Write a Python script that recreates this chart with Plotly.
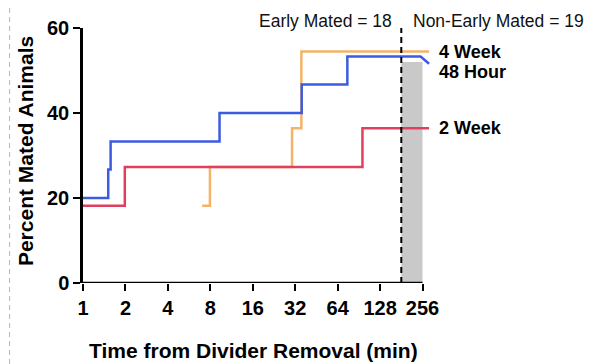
import plotly.graph_objects as go
import math

# ---- data ----
hour48_times = [1, 1.51, 1.57, 9.3, 35.6, 75, 248]
hour48_pct = [20.0, 26.7, 33.3, 40.0, 46.7, 53.3, 53.3]
hour48_tail_time = 285
hour48_tail_pct = 51.6

week2_times = [1, 1.98, 96]
week2_pct = [18.2, 27.3, 36.4]
week2_end = 285

week4_times = [7, 7.95, 30.4, 35.4]
week4_pct = [18.2, 27.3, 36.4, 54.5]
week4_end = 285

cutoff_time = 181
shade_end = 256
shade_top = 52
tick_vals = [1, 2, 4, 8, 16, 32, 64, 128, 256]
tick_text = [str(v) for v in tick_vals]
y_ticks = [0, 20, 40, 60]

BLUE = "#3d5be0"
RED = "#e0405e"
ORANGE = "#f4b36a"


def step_path(times, vals, end_time):
    xs, ys = [], []
    for i, (t, v) in enumerate(zip(times, vals)):
        xs.append(t)
        ys.append(v)
        nxt = times[i + 1] if i + 1 < len(times) else end_time
        xs.append(nxt)
        ys.append(v)
    return xs, ys


fig = go.Figure()

# gray shaded region
fig.add_shape(type="rect", xref="x", yref="y", x0=cutoff_time, x1=shade_end,
              y0=0, y1=shade_top, fillcolor="#c9c9c9", line=dict(width=0), layer="below")

x4, y4 = step_path(week4_times, week4_pct, week4_end)
fig.add_trace(go.Scatter(x=x4, y=y4, mode="lines", line=dict(color=ORANGE, width=2.5),
                         name="4 Week", showlegend=False))
x2, y2 = step_path(week2_times, week2_pct, week2_end)
fig.add_trace(go.Scatter(x=x2, y=y2, mode="lines", line=dict(color=RED, width=2.5),
                         name="2 Week", showlegend=False))
x48, y48 = step_path(hour48_times[:-1], hour48_pct[:-1], hour48_times[-1])
x48.append(hour48_tail_time)
y48.append(hour48_tail_pct)
fig.add_trace(go.Scatter(x=x48, y=y48, mode="lines", line=dict(color=BLUE, width=2.5),
                         name="48 Hour", showlegend=False))

# dashed cutoff line
fig.add_shape(type="line", xref="x", yref="y", x0=cutoff_time, x1=cutoff_time, y0=0, y1=60,
              line=dict(color="black", width=2, dash="6px,4px"))
# x axis line
fig.add_shape(type="line", xref="x", yref="y", x0=1, x1=256, y0=0, y1=0,
              line=dict(color="black", width=2.5))

# page body margin offset (browser default 8px)
OFF = 8
# screen-pixel geometry of the plot area
SL, SR, ST, SB = 83, 431.5, 28, 283
W, H = 595 - OFF, 364 - OFF
L, R, T, B = SL - OFF, SR - OFF, ST - OFF, SB - OFF


def px(x):
    return (x - SL) / (SR - SL)


def py(y):
    return (SB - y) / (SB - ST)


# left dashed border of panel
fig.add_shape(type="line", xref="paper", yref="paper", x0=px(9.5), x1=px(9.5), y0=py(8), y1=py(364),
              line=dict(color="#b5b5b5", width=1, dash="5px,4px"))

fnt = "Liberation Sans, Arial, sans-serif"
ann = [
    ("4 Week", 438, 52),
    ("48 Hour", 438, 72),
    ("2 Week", 438, 128),
]
for txt, ax, ay in ann:
    fig.add_annotation(text="<b>%s</b>" % txt, xref="paper", yref="paper", x=px(ax), y=py(ay),
                       xanchor="left", yanchor="middle", showarrow=False,
                       font=dict(family=fnt, size=18, color="black"))

fig.add_annotation(text="Early Mated = 18", xref="paper", yref="paper", x=px(394), y=py(21),
                   xanchor="right", yanchor="middle", showarrow=False,
                   font=dict(family=fnt, size=17.5, color="#111111"))
fig.add_annotation(text="Non-Early Mated = 19", xref="paper", yref="paper", x=px(411), y=py(21),
                   xanchor="left", yanchor="middle", showarrow=False,
                   font=dict(family=fnt, size=17.5, color="#111111"))

# axis titles as annotations for exact placement
fig.add_annotation(text="<b>Time from Divider Removal (min)</b>", xref="paper", yref="paper",
                   x=px(254), y=py(350), xanchor="center", yanchor="middle", showarrow=False,
                   font=dict(family=fnt, size=21, color="black"))
fig.add_annotation(text="<b>Percent Mated Animals</b>", xref="paper", yref="paper",
                   x=px(25), y=py(151), xanchor="center", yanchor="middle", showarrow=False,
                   textangle=-90, font=dict(family=fnt, size=21, color="black"))

fig.update_layout(
    width=W, height=H,
    margin=dict(l=L, r=W - R, t=T, b=H - B, autoexpand=False),
    paper_bgcolor="white", plot_bgcolor="white",
    font=dict(family=fnt, color="black"),
    xaxis=dict(type="log", range=[0, 8.2 * math.log10(2)], tickvals=tick_vals, ticktext=tick_text,
               showgrid=False, zeroline=False, showline=False, ticks="outside", ticklen=7,
               tickwidth=2, tickcolor="black", automargin=False,
               tickfont=dict(family=fnt, size=20, color="black", weight="bold")),
    yaxis=dict(range=[0, 60], tickvals=y_ticks, showgrid=False, zeroline=False, showline=True,
               linecolor="black", linewidth=2.5, ticks="outside", ticklen=7, tickwidth=2,
               tickcolor="black", automargin=False,
               tickfont=dict(family=fnt, size=20, color="black", weight="bold")),
)

fig.write_html("out.html")
